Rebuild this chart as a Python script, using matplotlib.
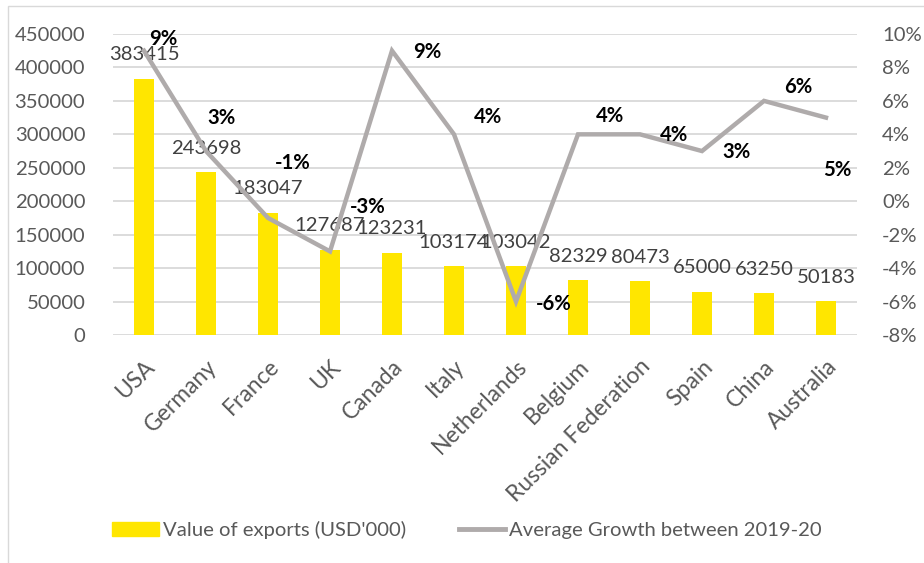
import matplotlib
matplotlib.use("Agg")
import matplotlib.pyplot as plt
from matplotlib.ticker import FuncFormatter, MultipleLocator
from matplotlib.lines import Line2D
from matplotlib.patches import Patch, Rectangle

plt.rcParams["font.family"] = ["Lato", "DejaVu Sans"]

countries = ["USA", "Germany", "France", "UK", "Canada", "Italy", "Netherlands",
             "Belgium", "Russian Federation", "Spain", "China", "Australia"]
exports = [383415, 243698, 183047, 127687, 123231, 103174, 103042,
           82329, 80473, 65000, 63250, 50183]
growth = [9, 3, -1, -3, 9, 4, -6, 4, 4, 3, 6, 5]

# hand-placed growth label offsets (pixels), as in the source chart
pct_offsets = [(19, 12), (16, 33), (25, 55), (38, 44), (35, -1), (34, 17),
               (38, -2), (32, 18), (34, -1), (34, -1), (34, 14), (11, -52)]

YELLOW, LINE, TXT, GRID = "#FFE600", "#AFABAB", "#595959", "#D9D9D9"
FS = 14.6

fig = plt.figure(figsize=(9.24, 5.63), dpi=100)
fig.patches.append(Rectangle((8 / 924, -0.05), 2, 1.05 - 6 / 563, transform=fig.transFigure,
                             fill=False, edgecolor="#D9D9D9", lw=1))
ax = fig.add_axes([113 / 924, 1 - 335 / 563, 744 / 924, 301 / 563])
x = list(range(len(countries)))

ax.bar(x, exports, width=0.32, color=YELLOW, zorder=2)
ax.set_xlim(-0.5, len(countries) - 0.5)
ax.set_ylim(0, 450000)
ax.yaxis.set_major_locator(MultipleLocator(50000))
ax.grid(axis="y", color=GRID, lw=1.3, zorder=0)
ax.set_axisbelow(True)
for s in ax.spines.values():
    s.set_visible(False)
ax.tick_params(length=0, labelsize=FS, labelcolor=TXT)
ax.tick_params(axis="y", pad=20)
ax.tick_params(axis="x", pad=15, labelsize=16.5)
ax.set_xticks(x)
ax.set_xticklabels(countries)
for lab in ax.get_xticklabels():
    lab.set_rotation(45)
    lab.set_ha("right")
    lab.set_va("top")
    lab.set_rotation_mode("anchor")

for xi, v in zip(x, exports):
    ax.annotate(str(v), (xi, v), xytext=(0, 17), textcoords="offset points",
                ha="center", va="center", fontsize=FS, color="#404040", zorder=4)

ax2 = ax.twinx()
ax2.plot(x, growth, color=LINE, lw=3.2, zorder=3, solid_joinstyle="miter")
ax2.set_ylim(-8, 10)
ax2.yaxis.set_major_locator(MultipleLocator(2))
ax2.yaxis.set_major_formatter(FuncFormatter(lambda v, p: f"{v:.0f}%"))
for s in ax2.spines.values():
    s.set_visible(False)
ax2.tick_params(length=0, labelsize=FS, labelcolor=TXT, pad=18)

for xi, g, (dx, dy) in zip(x, growth, pct_offsets):
    ax2.annotate(f"{g}%", (xi, g), xytext=(dx * 0.72, dy * 0.72), textcoords="offset points",
                 ha="center", va="center", fontsize=FS, fontweight="bold", color="black")

handles = [Patch(color=YELLOW, label="Value of exports (USD'000)"),
           Line2D([], [], color=LINE, lw=3.5, label="Average Growth between 2019-20")]
fig.legend(handles=handles, loc="center", bbox_to_anchor=(467 / 924, 1 - 530 / 563), ncol=2,
           frameon=False, fontsize=FS, labelcolor=TXT, handlelength=2.3, handletextpad=0.2,
           columnspacing=2.6)

fig.savefig("out.png", dpi=100)
